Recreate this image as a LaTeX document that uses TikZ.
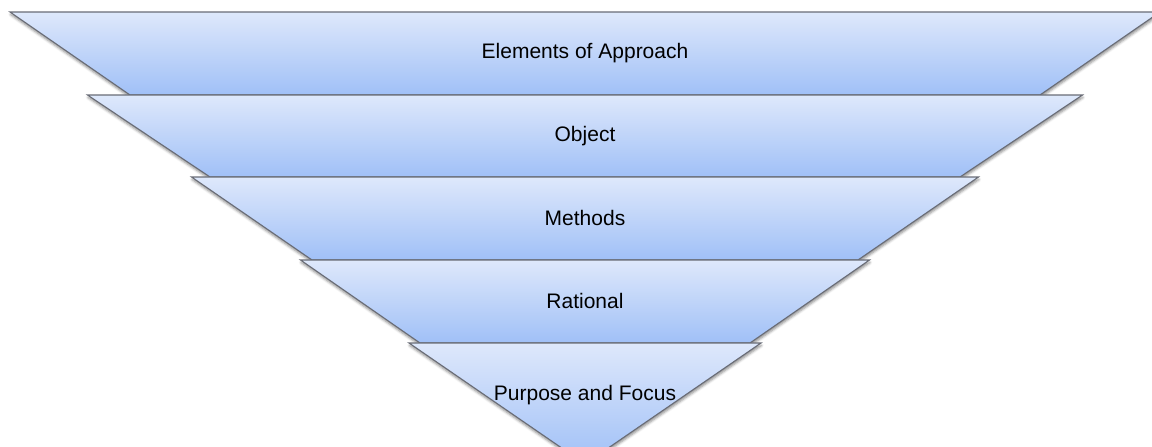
\documentclass[tikz,border=0pt]{standalone}
\usepackage{fontspec}
\setmainfont{Liberation Sans}
\usetikzlibrary{shadows.blur}
\definecolor{layertop}{RGB}{222,232,251}
\definecolor{layerbot}{RGB}{160,192,247}
\definecolor{layeredge}{RGB}{105,108,118}

\begin{document}
\begin{tikzpicture}
    [   x=1pt,y=-1pt,
        layer/.style={draw=layeredge,line width=1.1pt,line join=miter,
            top color=layertop,bottom color=layerbot,
            blur shadow={shadow xshift=0.5pt,shadow yshift=-2.5pt,shadow blur radius=2.5pt,shadow opacity=45}},
        lbl/.style={font=\fontsize{21}{25}\selectfont,text=black},
    ]
        \useasboundingbox (0,0) rectangle (1152,447);
        % top edge / bottom edge / half widths / label / label height
        \foreach \t/\b/\wt/\wb/\txt/\ty [count=\i] in
            {12/95/575/455/Elements of Approach/53,
             95/177/497.5/375/Object/136,
             177/260/393.5/273/Methods/218,
             260/343/284.5/165/Rational/301,
             343/464/176/0/Purpose and Focus/395}
        {   \draw[layer] (585-\wt,\t) -- (585+\wt,\t) -- (585+\wb,\b) -- (585-\wb,\b) -- cycle;
            \node[lbl] (layer-\i) at (585,\ty) {\txt};
        }
    \end{tikzpicture}
\end{document}
